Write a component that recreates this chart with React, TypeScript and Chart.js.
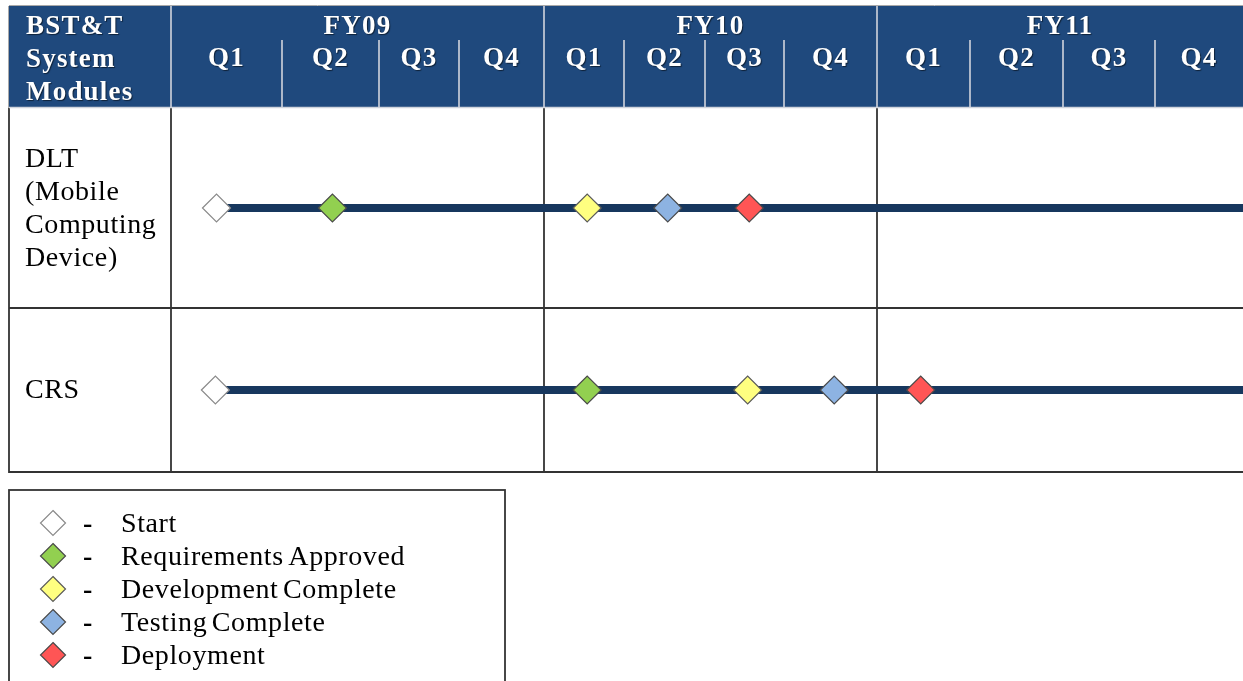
import React, { useEffect, useRef } from 'react';
import { Chart, registerables, LinearScale } from 'chart.js';

Chart.register(...registerables);

// ---------------- data ----------------
const fiscalYears = ['FY09', 'FY10', 'FY11'];
const quarterLabels = ['Q1', 'Q2', 'Q3', 'Q4'];
const headerTitle = ['BST&T', 'System', 'Modules'];
const moduleNames = ['DLT (Mobile Computing Device)', 'CRS'];
const moduleLabelLines = [['DLT', '(Mobile', 'Computing', 'Device)'], ['CRS']];
const milestoneNames = ['Start', 'Requirements Approved', 'Development Complete', 'Testing Complete', 'Deployment'];
// milestone positions, in quarters elapsed since start of FY09 (per milestone type, in order)
const dltMilestones = [0.41, 1.52, 4.54, 5.54, 6.56];
const crsMilestones = [0.4, 4.54, 6.54, 7.54, 8.47];
const timelineEnd = 12;

// ---------------- styles / layout ----------------
const milestoneFill = ['#ffffff', '#92d050', '#ffff80', '#8db3e2', '#ff5555'];
const milestoneBorder = ['#8a8a8a', '#4a4a4a', '#5a5a5a', '#4a4a4a', '#4a4a4a'];
const HEADER_BG = '#1f497d';
const BAR_COLOR = '#17375e';
const SERIF = '"Liberation Serif", "Times New Roman", serif';
// relative column widths of the quarter columns (table layout) and row heights
const COL_WEIGHTS = [111, 97, 80, 85, 80, 81, 79, 93, 93, 93, 92, 88];
const ROW_WEIGHTS = [200, 164];

class PiecewiseScale extends (LinearScale as any) {
  static id = 'piecewise';
  static defaults = (LinearScale as any).defaults;
  getPixelForValue(value: number) {
    const weights = this.axis === 'x' ? COL_WEIGHTS : ROW_WEIGHTS;
    const total = weights.reduce((a, b) => a + b, 0);
    const t = value - this.min;
    const i = Math.max(0, Math.min(weights.length - 1, Math.floor(t)));
    let acc = 0;
    for (let k = 0; k < i; k++) acc += weights[k];
    acc += (t - i) * weights[i];
    return this.getPixelForDecimal(acc / total);
  }
}
Chart.register(PiecewiseScale as any);

function diamond(ctx: CanvasRenderingContext2D, x: number, y: number, r: number, fill: string, stroke: string) {
  ctx.save();
  ctx.beginPath();
  ctx.moveTo(x, y - r);
  ctx.lineTo(x + r, y);
  ctx.lineTo(x, y + r);
  ctx.lineTo(x - r, y);
  ctx.closePath();
  ctx.fillStyle = fill;
  ctx.fill();
  ctx.lineWidth = 1.2;
  ctx.strokeStyle = stroke;
  ctx.stroke();
  ctx.restore();
}

const tablePlugin = {
  id: 'tablePlugin',
  beforeDatasetsDraw(chart: any) {
    const { ctx, chartArea } = chart;
    const xs = chart.scales.x;
    const ys = chart.scales.y;
    const left = 9;
    const right = chart.width;
    const rowMid = ys.getPixelForValue(0.5);
    const bottom = ys.getPixelForValue(1.5);
    ctx.save();
    ctx.strokeStyle = '#333333';
    ctx.lineWidth = 1.8;
    ctx.beginPath();
    [left, chartArea.left, xs.getPixelForValue(4), xs.getPixelForValue(8)].forEach((x: number) => {
      ctx.moveTo(x, chartArea.top);
      ctx.lineTo(x, bottom);
    });
    [rowMid, bottom].forEach((y: number) => {
      ctx.moveTo(left - 0.9, y);
      ctx.lineTo(right, y);
    });
    ctx.stroke();
    ctx.restore();
  },
  afterDraw(chart: any) {
    const { ctx, chartArea } = chart;
    const xs = chart.scales.x;
    const ys = chart.scales.y;
    const left = 9;
    const right = chart.width;
    const top = 6;
    const hb = chartArea.top;
    ctx.save();
    // header
    ctx.fillStyle = HEADER_BG;
    ctx.fillRect(left, top, right - left, hb - top);
    ctx.strokeStyle = '#a9a9a9';
    ctx.lineWidth = 1;
    ctx.beginPath();
    ctx.moveTo(left, top - 0.5);
    ctx.lineTo(right, top - 0.5);
    ctx.moveTo(left - 0.5, top);
    ctx.lineTo(left - 0.5, hb);
    ctx.stroke();
    ctx.strokeStyle = '#d0d4dc';
    ctx.lineWidth = 1.6;
    ctx.beginPath();
    const fyBounds = [chartArea.left, xs.getPixelForValue(4), xs.getPixelForValue(8)];
    fyBounds.forEach((x: number) => {
      ctx.moveTo(x, top);
      ctx.lineTo(x, hb);
    });
    for (let q = 1; q < 12; q++) {
      if (q % 4 === 0) continue;
      const x = xs.getPixelForValue(q);
      ctx.moveTo(x, 40);
      ctx.lineTo(x, hb);
    }
    ctx.moveTo(left, hb - 0.5);
    ctx.lineTo(right, hb - 0.5);
    ctx.stroke();

    ctx.fillStyle = '#ffffff';
    ctx.shadowColor = 'rgba(0,0,0,0.55)';
    ctx.shadowOffsetX = 1;
    ctx.shadowOffsetY = 1;
    ctx.shadowBlur = 1;
    ctx.font = `bold 27px ${SERIF}`;
    (ctx as any).letterSpacing = '1.2px';
    ctx.textBaseline = 'alphabetic';
    ctx.textAlign = 'left';
    headerTitle.forEach((t, i) => ctx.fillText(t, 26, 34 + i * 33));
    ctx.textAlign = 'center';
    fiscalYears.forEach((fy, i) => {
      const a = xs.getPixelForValue(i * 4);
      const b = xs.getPixelForValue(i * 4 + 4);
      ctx.fillText(fy, (a + b) / 2, 34);
      quarterLabels.forEach((q, j) => {
        const qa = xs.getPixelForValue(i * 4 + j);
        const qb = xs.getPixelForValue(i * 4 + j + 1);
        ctx.fillText(q, (qa + qb) / 2, 66);
      });
    });
    ctx.restore();

    // module labels
    ctx.save();
    ctx.fillStyle = '#000000';
    ctx.font = `28px ${SERIF}`;
    (ctx as any).letterSpacing = '0.6px';
    (ctx as any).wordSpacing = '-3px';
    ctx.textAlign = 'left';
    ctx.textBaseline = 'alphabetic';
    moduleLabelLines.forEach((lines, r) => {
      const yc = ys.getPixelForValue(r);
      const startBase = yc - ((lines.length - 1) * 33) / 2 + 8;
      lines.forEach((l, k) => ctx.fillText(l, 25, startBase + k * 33));
    });

    // legend
    ctx.strokeStyle = '#333333';
    ctx.lineWidth = 1.8;
    ctx.strokeRect(9, 490, 496, 300);
    milestoneNames.forEach((name, i) => {
      const base = 532 + i * 33;
      diamond(ctx, 53, base - 9, 12.5, milestoneFill[i], milestoneBorder[i]);
      ctx.fillStyle = '#000000';
      ctx.textAlign = 'center';
      ctx.font = `bold 28px ${SERIF}`;
      ctx.fillText('-', 88, base);
      ctx.font = `28px ${SERIF}`;
      ctx.textAlign = 'left';
      ctx.fillText(name, 121, base);
    });
    ctx.restore();
  },
};

export default function App() {
  const ref = useRef<HTMLCanvasElement | null>(null);
  useEffect(() => {
    if (!ref.current) return;
    const series = [dltMilestones, crsMilestones];
    const datasets: any[] = [];
    milestoneNames.forEach((name, m) => {
      datasets.push({
        type: 'scatter',
        label: name,
        data: series.map((s, r) => ({ x: s[m], y: r })),
        pointStyle: 'rectRot',
        pointRadius: 14,
        pointBackgroundColor: milestoneFill[m],
        pointBorderColor: milestoneBorder[m],
        pointBorderWidth: 1.2,
        showLine: false,
        order: 0,
        clip: false,
      });
    });
    series.forEach((s, r) => {
      datasets.push({
        type: 'line',
        label: moduleNames[r],
        data: [
          { x: s[0], y: r },
          { x: timelineEnd, y: r },
        ],
        borderColor: BAR_COLOR,
        borderWidth: 8,
        pointRadius: 0,
        fill: false,
        order: 1,
      });
    });
    const chart = new Chart(ref.current, {
      type: 'scatter',
      data: { datasets },
      options: {
        animation: false,
        responsive: false,
        devicePixelRatio: 1,
        events: [],
        layout: { autoPadding: false, padding: { left: 171, top: 108, right: 0, bottom: 209 } },
        plugins: { legend: { display: false }, tooltip: { enabled: false } },
        scales: {
          x: { type: 'piecewise' as any, min: 0, max: timelineEnd, display: false },
          y: { type: 'piecewise' as any, min: -0.5, max: 1.5, reverse: true, display: false },
        },
      },
      plugins: [tablePlugin],
    });
    return () => chart.destroy();
  }, []);
  return (
    <div style={{ position: 'absolute', left: 0, top: 0, width: 1243, height: 681, background: '#fff' }}>
      <canvas ref={ref} width={1243} height={681} style={{ width: 1243, height: 681 }} />
    </div>
  );
}
